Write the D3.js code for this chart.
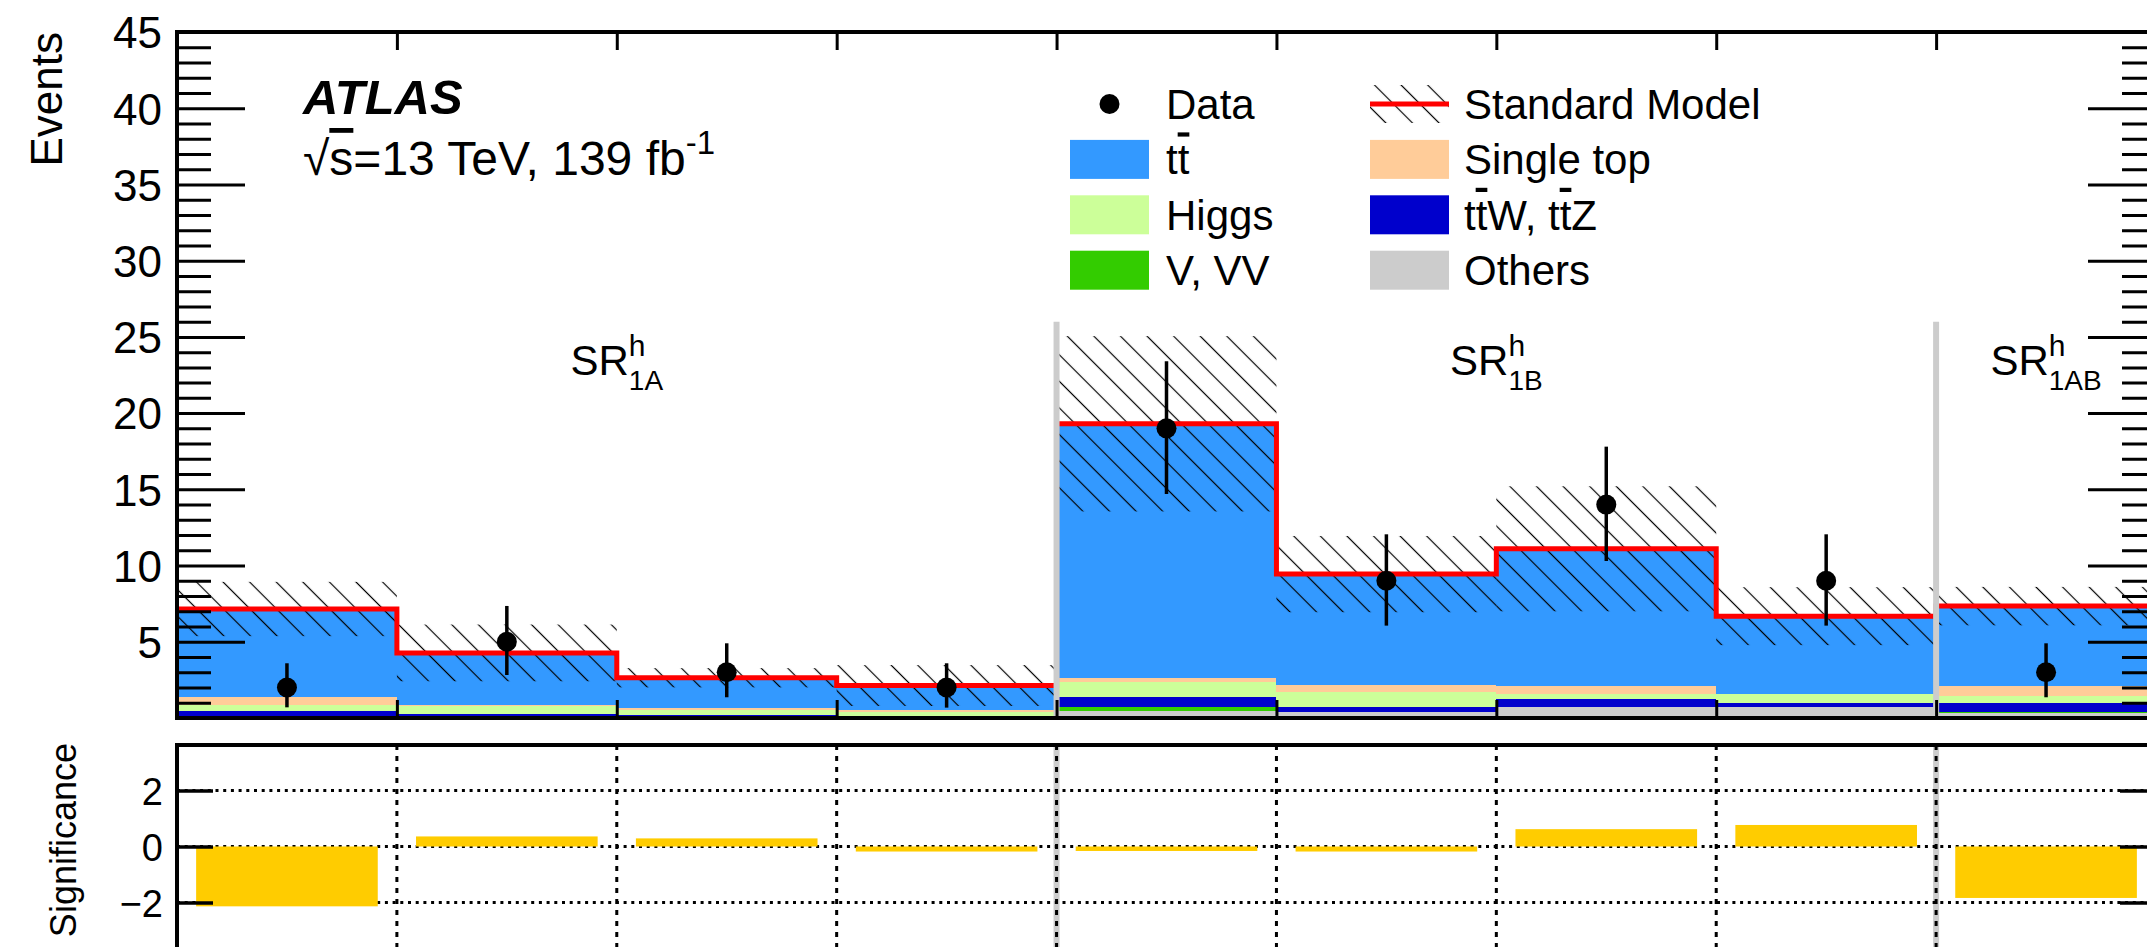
<!DOCTYPE html>
<html><head><meta charset="utf-8">
<script src="https://cdn.jsdelivr.net/npm/d3@7"></script>
<style>
body{margin:0;background:#fff;}
svg{display:block;}
text{font-family:"Liberation Sans",Arial,Helvetica,sans-serif;fill:#000;}
</style>
</head><body>
<svg id="chart" width="2147" height="947"></svg>
<script>
// ---------------- data ----------------
const bins = [0, 1, 2, 3, 4, 5, 6, 7, 8];
const regions = [
  {name: "SR", sup: "h", sub: "1A", start: 0, end: 4},
  {name: "SR", sup: "h", sub: "1B", start: 4, end: 8},
  {name: "SR", sup: "h", sub: "1AB", start: 8, end: 9}
];
// background stack, bottom to top
const others  = [0.00, 0.00, 0.00, 0.00, 0.48, 0.37, 0.70, 0.70, 0.35];
const vvv     = [0.02, 0.02, 0.02, 0.02, 0.22, 0.02, 0.04, 0.02, 0.06];
const ttv     = [0.44, 0.25, 0.20, 0.12, 0.70, 0.35, 0.51, 0.28, 0.55];
const higgs   = [0.40, 0.50, 0.30, 0.28, 0.98, 0.99, 0.32, 0.55, 0.48];
const singleTop = [0.54, 0.05, 0.11, 0.10, 0.26, 0.44, 0.53, 0.03, 0.66];
const ttbar   = [5.75, 3.45, 2.01, 1.61, 16.66, 7.27, 9.00, 5.10, 5.24];
const smUnc   = [1.78, 1.86, 0.63, 1.34, 5.75, 2.50, 4.10, 1.90, 1.26];
const dataVals = [2, 5, 3, 2, 19, 9, 14, 9, 3];
const dataErrUp   = [1.59, 2.35, 1.90, 1.59, 4.40, 3.05, 3.80, 3.05, 1.90];
const dataErrDown = [1.30, 2.18, 1.64, 1.32, 4.30, 2.94, 3.70, 2.94, 1.64];
const significance = [-2.14, 0.36, 0.29, -0.18, -0.16, -0.18, 0.62, 0.77, -1.84];
const yMajorTicks = [5, 10, 15, 20, 25, 30, 35, 40, 45];
const sigTicks = [-2, 0, 2];

const colors = {
  others: "#cccccc", vvv: "#33cc00", ttv: "#0000cc",
  higgs: "#ccff99", singleTop: "#ffcc99", ttbar: "#3399ff"
};
const keys = ["others", "vvv", "ttv", "higgs", "singleTop", "ttbar"];
const series = {others, vvv, ttv, higgs, singleTop, ttbar};

// ---------------- layout ----------------
const FONT = '"Liberation Sans",Arial,Helvetica,sans-serif';
const svg = d3.select("#chart");
const X0 = 177, X1 = 2156;
const x = d3.scaleLinear().domain([0, 9]).range([X0, X1]);
const y = d3.scaleLinear().domain([0, 45]).range([718, 32]);
const y2 = d3.scaleLinear().domain([-3.63, 3.63]).range([948, 745]);

// hatch pattern
const defs = svg.append("defs");
const pat = defs.append("pattern").attr("id", "hatch")
  .attr("patternUnits", "userSpaceOnUse")
  .attr("width", 18.8).attr("height", 18.8)
  .attr("patternTransform", "rotate(45)");
pat.append("line").attr("x1", 0).attr("x2", 18.8).attr("y1", 9.4).attr("y2", 9.4)
  .attr("stroke", "#000").attr("stroke-width", 1.2);

// ---------------- top panel ----------------
const table = bins.map(i => {
  const o = {bin: i};
  keys.forEach(k => o[k] = series[k][i]);
  return o;
});
const stacked = d3.stack().keys(keys)(table);
const sm = bins.map(i => keys.reduce((s, k) => s + series[k][i], 0));

const gStack = svg.append("g");
stacked.forEach(layer => {
  gStack.selectAll(null).data(layer).enter().append("rect")
    .attr("x", d => x(d.data.bin))
    .attr("width", d => x(d.data.bin + 1) - x(d.data.bin))
    .attr("y", d => y(d[1]))
    .attr("height", d => Math.max(0, y(d[0]) - y(d[1])))
    .attr("fill", colors[layer.key])
    .attr("shape-rendering", "crispEdges");
});

// hatched uncertainty band
svg.append("g").selectAll("rect").data(bins).enter().append("rect")
  .attr("x", i => x(i))
  .attr("width", i => x(i + 1) - x(i))
  .attr("y", i => y(sm[i] + smUnc[i]))
  .attr("height", i => y(Math.max(0, sm[i] - smUnc[i])) - y(sm[i] + smUnc[i]))
  .attr("fill", "url(#hatch)");

// SM red step line
const stepPts = bins.map(i => [i, sm[i]]).concat([[9, sm[8]]]);
svg.append("path")
  .attr("d", d3.line().x(d => x(d[0])).y(d => y(d[1])).curve(d3.curveStepAfter)(stepPts))
  .attr("fill", "none").attr("stroke", "#ff0000").attr("stroke-width", 5);

// region separators (gray)
const seps = regions.slice(1).map(r => r.start);
svg.append("g").selectAll("line").data(seps).enter().append("line")
  .attr("x1", d => x(d)).attr("x2", d => x(d))
  .attr("y1", y(0)).attr("y2", y(26))
  .attr("stroke", "#cccccc").attr("stroke-width", 6);

// region labels
regions.forEach(r => {
  const t = svg.append("text")
    .attr("x", x((r.start + r.end) / 2))
    .attr("y", 375)
    .attr("text-anchor", "middle")
    .attr("font-size", 42);
  t.append("tspan").text(r.name);
  const supW = 0.556 * 30;
  t.append("tspan").attr("font-size", 30).attr("dy", -19).text(r.sup);
  t.append("tspan").attr("font-size", 28).attr("dx", -supW).attr("dy", 34).text(r.sub);
});

// data points
const gData = svg.append("g");
gData.selectAll("line").data(bins).enter().append("line")
  .attr("x1", i => x(i + 0.5)).attr("x2", i => x(i + 0.5))
  .attr("y1", i => y(dataVals[i] + dataErrUp[i]))
  .attr("y2", i => y(dataVals[i] - dataErrDown[i]))
  .attr("stroke", "#000").attr("stroke-width", 3.5);
gData.selectAll("circle").data(bins).enter().append("circle")
  .attr("cx", i => x(i + 0.5)).attr("cy", i => y(dataVals[i]))
  .attr("r", 10).attr("fill", "#000");

// axes of top panel
function styleAxis(g, w) {
  g.selectAll(".tick line").attr("stroke", "#000").attr("stroke-width", w);
  g.select(".domain").remove();
  g.selectAll("text").attr("font-family", FONT);
}
const yMinor = d3.range(1, 45).filter(v => v % 5 !== 0);
// left
let g = svg.append("g").attr("transform", `translate(${X0},0)`)
  .call(d3.axisLeft(y).tickValues(yMajorTicks).tickSize(-68).tickPadding(15));
styleAxis(g, 3);
g.selectAll("text").attr("font-size", 44).attr("dy", "0.36em");
g = svg.append("g").attr("transform", `translate(${X0},0)`)
  .call(d3.axisLeft(y).tickValues(yMinor).tickSize(-34).tickFormat(""));
styleAxis(g, 3);
// right
g = svg.append("g").attr("transform", `translate(${X1},0)`)
  .call(d3.axisRight(y).tickValues(yMajorTicks).tickSize(-68).tickFormat(""));
styleAxis(g, 3);
g = svg.append("g").attr("transform", `translate(${X1},0)`)
  .call(d3.axisRight(y).tickValues(yMinor).tickSize(-34).tickFormat(""));
styleAxis(g, 3);
// bin-edge ticks top & bottom
g = svg.append("g").attr("transform", `translate(0,${y(0)})`)
  .call(d3.axisBottom(x).tickValues(d3.range(1, 9)).tickSize(-18).tickFormat(""));
styleAxis(g, 3);
g = svg.append("g").attr("transform", `translate(0,${y(45)})`)
  .call(d3.axisTop(x).tickValues(d3.range(1, 9)).tickSize(-18).tickFormat(""));
styleAxis(g, 3);
// frame
svg.append("line").attr("x1", X0).attr("x2", X0).attr("y1", y(45) - 2).attr("y2", y(0) + 2)
  .attr("stroke", "#000").attr("stroke-width", 4);
svg.append("line").attr("x1", X0 - 2).attr("x2", X1 + 2).attr("y1", y(0)).attr("y2", y(0))
  .attr("stroke", "#000").attr("stroke-width", 4);
svg.append("line").attr("x1", X0 - 2).attr("x2", X1 + 2).attr("y1", y(45)).attr("y2", y(45))
  .attr("stroke", "#000").attr("stroke-width", 4);
svg.append("line").attr("x1", X1).attr("x2", X1).attr("y1", y(45)).attr("y2", y(0))
  .attr("stroke", "#000").attr("stroke-width", 4);

// y title
svg.append("text").attr("transform", "translate(62,32) rotate(-90)")
  .attr("text-anchor", "end").attr("font-size", 44).text("Events");

// ATLAS label
svg.append("text").attr("x", 303).attr("y", 114).attr("font-size", 49)
  .attr("font-weight", "bold").attr("font-style", "italic").text("ATLAS");
const en = svg.append("text").attr("x", 303).attr("y", 175).attr("font-size", 48);
en.append("tspan").text("\u221A");
en.append("tspan").style("text-decoration", "overline").text("s");
en.append("tspan").text("=13 TeV, 139 fb");
en.append("tspan").attr("font-size", 33).attr("dy", -21).text("-1");

// legend
const legend = [
  {col: 0, row: 0, type: "data", label: [["Data"]]},
  {col: 0, row: 1, key: "ttbar", label: [["t"], ["t", 1]]},
  {col: 0, row: 2, key: "higgs", label: [["Higgs"]]},
  {col: 0, row: 3, key: "vvv", label: [["V, VV"]]},
  {col: 1, row: 0, type: "sm", label: [["Standard Model"]]},
  {col: 1, row: 1, key: "singleTop", label: [["Single top"]]},
  {col: 1, row: 2, key: "ttv", label: [["t"], ["t", 1], ["W, t"], ["t", 1], ["Z"]]},
  {col: 1, row: 3, key: "others", label: [["Others"]]}
];
const colX = [1070, 1370], textX = [1166, 1464];
const rowY = r => 104 + r * 55.4;
const gl = svg.append("g");
legend.forEach(e => {
  const cy = rowY(e.row), bx = colX[e.col];
  if (e.type === "data") {
    gl.append("circle").attr("cx", bx + 39.5).attr("cy", cy).attr("r", 10).attr("fill", "#000");
  } else if (e.type === "sm") {
    gl.append("rect").attr("x", bx).attr("y", cy - 19).attr("width", 79).attr("height", 38)
      .attr("fill", "url(#hatch)");
    gl.append("line").attr("x1", bx).attr("x2", bx + 79).attr("y1", cy).attr("y2", cy)
      .attr("stroke", "#ff0000").attr("stroke-width", 5);
  } else {
    gl.append("rect").attr("x", bx).attr("y", cy - 19.5).attr("width", 79).attr("height", 39)
      .attr("fill", colors[e.key]);
  }
  const t = gl.append("text").attr("x", textX[e.col]).attr("y", cy + 15).attr("font-size", 42);
  e.label.forEach(s => {
    const ts = t.append("tspan").text(s[0]);
    if (s[1]) ts.style("text-decoration", "overline");
  });
});

// ---------------- bottom panel ----------------
// region separators
svg.append("g").selectAll("line").data(seps).enter().append("line")
  .attr("x1", d => x(d)).attr("x2", d => x(d))
  .attr("y1", y2(3.63)).attr("y2", y2(-3.63))
  .attr("stroke", "#cccccc").attr("stroke-width", 6);
// dotted grid
svg.append("g").selectAll("line").data(sigTicks).enter().append("line")
  .attr("x1", X0).attr("x2", X1).attr("y1", d => y2(d)).attr("y2", d => y2(d))
  .attr("stroke", "#000").attr("stroke-width", 3).attr("stroke-dasharray", "3,4.7");
svg.append("g").selectAll("line").data(d3.range(1, 9)).enter().append("line")
  .attr("x1", d => x(d)).attr("x2", d => x(d)).attr("y1", y2(3.63)).attr("y2", y2(-3.63))
  .attr("stroke", "#000").attr("stroke-width", 3).attr("stroke-dasharray", "5,6");
// significance bars
svg.append("g").selectAll("rect").data(bins).enter().append("rect")
  .attr("x", i => x(i + 0.087))
  .attr("width", i => x(i + 0.913) - x(i + 0.087))
  .attr("y", i => y2(Math.max(0, significance[i])))
  .attr("height", i => Math.abs(y2(significance[i]) - y2(0)))
  .attr("fill", "#ffcc00");
// axes
g = svg.append("g").attr("transform", `translate(${X0},0)`)
  .call(d3.axisLeft(y2).tickValues(sigTicks).tickSize(-36).tickPadding(14));
styleAxis(g, 3.5);
g.selectAll("text").attr("font-size", 38).attr("dy", "0.36em");
g = svg.append("g").attr("transform", `translate(${X1},0)`)
  .call(d3.axisRight(y2).tickValues(sigTicks).tickSize(-36).tickFormat(""));
styleAxis(g, 3.5);
svg.append("line").attr("x1", X0).attr("x2", X0).attr("y1", y2(3.63) - 2).attr("y2", 950)
  .attr("stroke", "#000").attr("stroke-width", 4);
svg.append("line").attr("x1", X0 - 2).attr("x2", X1 + 2).attr("y1", y2(3.63)).attr("y2", y2(3.63))
  .attr("stroke", "#000").attr("stroke-width", 4);
svg.append("text").attr("transform", `translate(76,743) rotate(-90)`)
  .attr("text-anchor", "end").attr("font-size", 36).text("Significance");
</script>
</body></html>
